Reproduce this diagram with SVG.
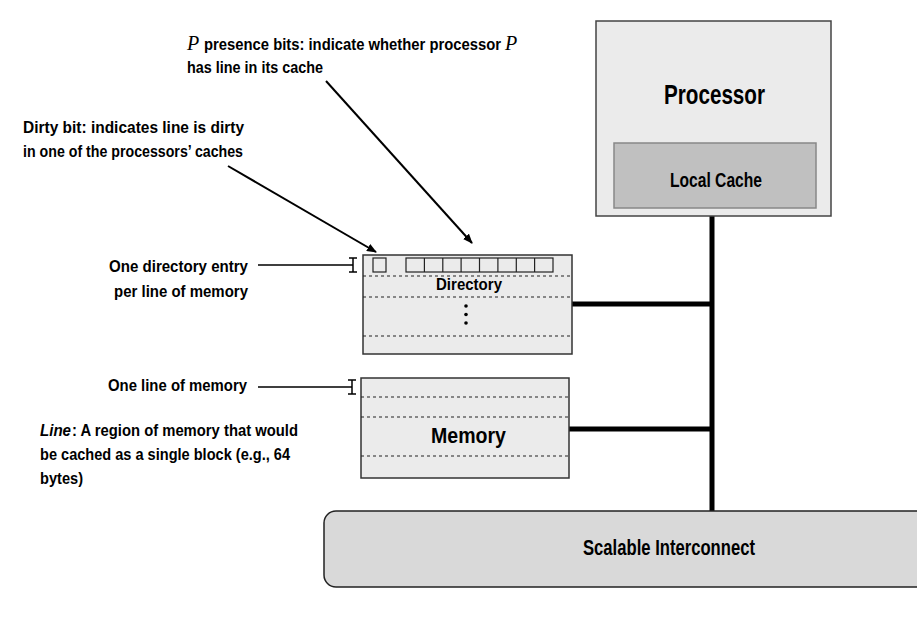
<svg xmlns="http://www.w3.org/2000/svg" width="917" height="637" viewBox="0 0 917 637">
<style>
text{font-family:"Liberation Sans","DejaVu Sans",sans-serif;font-weight:bold;fill:#000}
.lbl{font-size:17px}
.box{fill:#ebebeb;stroke:#333;stroke-width:1.5}
.dash{stroke:#222;stroke-width:1.2;stroke-dasharray:3,3}
.bit{fill:none;stroke:#222;stroke-width:1.2}
.bus{stroke:#000;stroke-width:5;fill:none}
.thin{stroke:#000;stroke-width:1.5;fill:none}
.arr{stroke:#000;stroke-width:2;fill:none;marker-end:url(#ah)}
.pi{font-family:"Liberation Serif",serif;font-style:italic;font-weight:normal;font-size:20px}
</style>
<defs>
<marker id="ah" markerWidth="10" markerHeight="8" refX="9" refY="4" orient="auto" markerUnits="userSpaceOnUse">
<path d="M0,0 L10,4 L0,8 z" fill="#000"/>
</marker>
</defs>
<rect width="917" height="637" fill="#fff"/>
<g id="connectors">
<line class="bus" x1="712" y1="216" x2="712" y2="511"/>
<line class="bus" x1="572" y1="304" x2="712" y2="304"/>
<line class="bus" x1="569" y1="429" x2="712" y2="429"/>
<line class="arr" x1="228" y1="166" x2="376" y2="252"/>
<line class="arr" x1="326" y1="81" x2="472" y2="243"/>
<path class="thin" d="M258,265 H353 M353,258 V272 M349,258 H357 M349,272 H357"/>
<path class="thin" d="M258,387 H352 M352,380 V394 M348,380 H356 M348,394 H356"/>
</g>
<g id="processor">
<rect x="596" y="21" width="235" height="195" fill="#ebebeb" stroke="#444" stroke-width="1.5"/>
<text x="664" y="104" font-size="28" textLength="101" lengthAdjust="spacingAndGlyphs">Processor</text>
<g id="localcache">
<rect x="614" y="143" width="202" height="65" fill="#c0c0c0" stroke="#888" stroke-width="1.5"/>
<text x="670" y="187" font-size="20" textLength="92" lengthAdjust="spacingAndGlyphs">Local Cache</text>
</g>
</g>
<g id="directory">
<rect class="box" x="363" y="255" width="209" height="99"/>
<line class="dash" x1="363" y1="276" x2="572" y2="276"/>
<line class="dash" x1="363" y1="297" x2="572" y2="297"/>
<line class="dash" x1="363" y1="336" x2="572" y2="336"/>
<rect class="bit" x="373" y="258" width="13" height="14"/>
<rect class="bit" x="406" y="258" width="147" height="14"/>
<path class="bit" d="M424.4,258V272M442.8,258V272M461.1,258V272M479.5,258V272M497.9,258V272M516.3,258V272M534.6,258V272"/>
<text x="436" y="290" font-size="17" textLength="66" lengthAdjust="spacingAndGlyphs">Directory</text>
<circle cx="466" cy="306" r="1.8"/>
<circle cx="466" cy="314.5" r="1.8"/>
<circle cx="466" cy="323" r="1.8"/>
</g>
<g id="memory">
<rect class="box" x="361" y="378" width="208" height="100"/>
<line class="dash" x1="361" y1="397" x2="569" y2="397"/>
<line class="dash" x1="361" y1="417" x2="569" y2="417"/>
<line class="dash" x1="361" y1="456" x2="569" y2="456"/>
<text x="431" y="443" font-size="22" textLength="75" lengthAdjust="spacingAndGlyphs">Memory</text>
</g>
<g id="interconnect">
<rect x="324" y="511" width="610" height="76" rx="12" fill="#d9d9d9" stroke="#222" stroke-width="1.5"/>
<text x="583" y="555" font-size="22" textLength="172" lengthAdjust="spacingAndGlyphs">Scalable Interconnect</text>
</g>
<g id="labels">
<text class="pi" x="187" y="50">P</text>
<text class="lbl" x="204" y="50" textLength="297" lengthAdjust="spacingAndGlyphs">presence bits: indicate whether processor</text>
<text class="pi" x="505" y="50">P</text>
<text class="lbl" x="187" y="73" textLength="136" lengthAdjust="spacingAndGlyphs">has line in its cache</text>
<text class="lbl" x="23" y="133" textLength="221" lengthAdjust="spacingAndGlyphs">Dirty bit: indicates line is dirty</text>
<text class="lbl" x="23" y="157" textLength="220" lengthAdjust="spacingAndGlyphs">in one of the processors’ caches</text>
<text class="lbl" x="109" y="272" textLength="139" lengthAdjust="spacingAndGlyphs">One directory entry</text>
<text class="lbl" x="114" y="297" textLength="134" lengthAdjust="spacingAndGlyphs">per line of memory</text>
<text class="lbl" x="108" y="391" textLength="139" lengthAdjust="spacingAndGlyphs">One line of memory</text>
<text class="lbl" x="40" y="436" font-style="italic" textLength="31" lengthAdjust="spacingAndGlyphs">Line</text>
<text class="lbl" x="72" y="436" textLength="226" lengthAdjust="spacingAndGlyphs">: A region of memory that would</text>
<text class="lbl" x="40" y="460" textLength="250" lengthAdjust="spacingAndGlyphs">be cached as a single block (e.g., 64</text>
<text class="lbl" x="40" y="484" textLength="43" lengthAdjust="spacingAndGlyphs">bytes)</text>
</g>
</svg>
